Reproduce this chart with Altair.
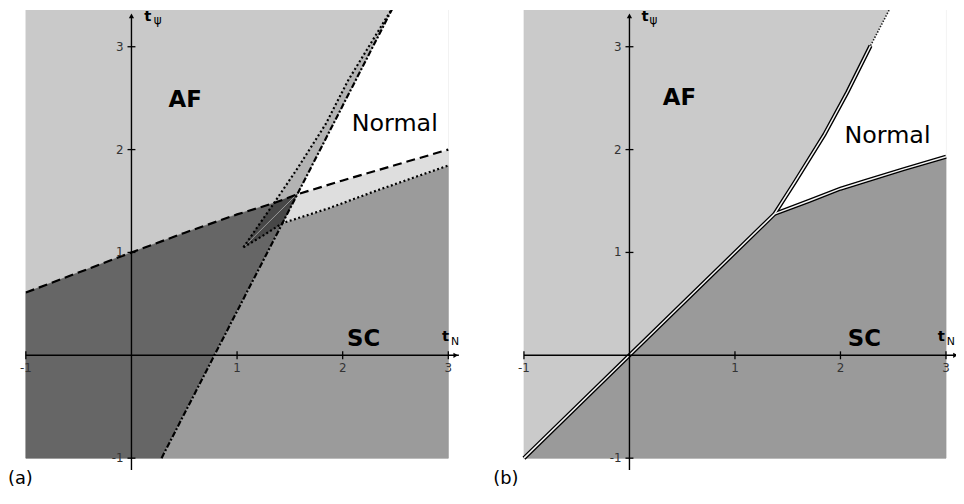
import altair as alt
import pandas as pd

# ---------------- data ----------------
# common frame of the filled region
FRAME_X = [-1.0, 3.0]
FRAME_Y = [-1.0, 3.41]

# panel (a) boundary curves
A_DASH_X = [-1.0, 0.0, 0.5, 1.0, 1.35, 1.57, 2.0, 2.5, 3.0]
A_DASH_Y = [0.61, 1.0, 1.19, 1.37, 1.48, 1.565, 1.70, 1.85, 2.0]
A_DD_X = [0.285, 0.785, 1.43, 1.57, 2.49]
A_DD_Y = [-1.0, 0.0, 1.285, 1.565, 3.41]
A_SC_X = [1.06, 1.24, 1.43, 1.87, 2.29, 2.65, 3.0]
A_SC_Y = [1.05, 1.16, 1.285, 1.43, 1.59, 1.72, 1.845]
A_AF_X = [1.06, 1.35, 1.58, 1.84, 2.05, 2.30, 2.49]
A_AF_Y = [1.05, 1.48, 1.83, 2.25, 2.67, 3.09, 3.41]
A_FAINT_X = [1.06, 1.55]
A_FAINT_Y = [1.05, 1.55]

# panel (b) boundary curves
B_DIAG_X = [-1.0, 0.0, 1.375]
B_DIAG_Y = [-1.0, 0.0, 1.375]
B_AFN_X = [1.375, 1.565, 1.847, 2.066, 2.285]
B_AFN_Y = [1.375, 1.68, 2.145, 2.56, 3.01]
B_DOT_X = [2.285, 2.488]
B_DOT_Y = [3.01, 3.41]
B_SCN_X = [1.375, 1.7, 2.0, 2.22, 2.6, 3.0]
B_SCN_Y = [1.375, 1.50, 1.62, 1.69, 1.81, 1.93]

# axes / ticks / labels
X_TICKS = [-1, 1, 2, 3]
X_TICK_LABELS = ["-1", "1", "2", "3"]
Y_TICKS = [3, 2, 1, -1]
Y_TICK_LABELS = ["3", "2", "1", "-1"]

A_REGION_TEXT = ["AF", "Normal", "SC"]
A_REGION_X = [0.509, 2.493, 2.199]
A_REGION_Y = [2.486, 2.248, 0.155]
B_REGION_TEXT = ["AF", "Normal", "SC"]
B_REGION_X = [0.473, 2.446, 2.227]
B_REGION_Y = [2.502, 2.132, 0.155]

# ---------------- layout ----------------
YD = [-1.29, 3.357]
AXD = [-1.169, 3.413]
BXD = [-1.3036, 3.095]
HEIGHT = 482
WA, WB = 488, 468

FONT = "DejaVu Sans"


def pts(xs, ys, idx):
    return [(xs[k], ys[k]) for k in idx]


def frame_df(points):
    return pd.DataFrame({"x": [p[0] for p in points],
                         "y": [p[1] for p in points],
                         "i": list(range(len(points)))})


def xy(xd):
    return dict(
        x=alt.X("x:Q", scale=alt.Scale(domain=xd, nice=False, zero=False), axis=None),
        y=alt.Y("y:Q", scale=alt.Scale(domain=YD, nice=False, zero=False), axis=None),
    )


def poly(points, color, xd):
    return alt.Chart(frame_df(points)).mark_line(
        fill=color, stroke=color, strokeWidth=0.6, clip=True,
        interpolate="linear-closed").encode(order="i:Q", **xy(xd))


def line(xs, ys, xd, width=2.0, dash=None, color="black"):
    kw = dict(color=color, strokeWidth=width, clip=True)
    if dash:
        kw["strokeDash"] = dash
    return alt.Chart(frame_df(list(zip(xs, ys)))).mark_line(**kw).encode(order="i:Q", **xy(xd))


def texts(xs, ys, labels, xd, **mk):
    df = pd.DataFrame({"x": xs, "y": ys, "t": labels})
    return alt.Chart(df).mark_text(clip=True, font=FONT, **mk).encode(text="t:N", **xy(xd))


def axes(xd, xend, tN_x, tpsi_x, psi_x, tag_x, tag):
    hx = pd.DataFrame({"x": [-1.0], "x2": [xend], "y": [0.0]})
    vy = pd.DataFrame({"x": [0.0], "y": [-1.115], "y2": [3.30]})
    enc = xy(xd)
    layers = [
        alt.Chart(hx).mark_rule(color="black", strokeWidth=1.4, clip=True).encode(
            x=enc["x"], x2="x2:Q", y=enc["y"]),
        alt.Chart(vy).mark_rule(color="black", strokeWidth=1.4, clip=True).encode(
            x=enc["x"], y=enc["y"], y2="y2:Q"),
        alt.Chart(pd.DataFrame({"x": [xend - 0.03], "y": [0.0]})).mark_point(
            shape="triangle-right", filled=True, size=28, color="black", opacity=1, clip=True).encode(**enc),
        alt.Chart(pd.DataFrame({"x": [0.0], "y": [3.30]})).mark_point(
            shape="triangle-up", filled=True, size=28, color="black", opacity=1, clip=True).encode(**enc),
        alt.Chart(pd.DataFrame({"x": X_TICKS, "y": [0] * len(X_TICKS)})).mark_tick(
            orient="vertical", size=8, thickness=1.3, color="black", opacity=1, clip=True).encode(**enc),
        alt.Chart(pd.DataFrame({"x": [0] * len(Y_TICKS), "y": Y_TICKS})).mark_tick(
            orient="horizontal", size=8, thickness=1.3, color="black", opacity=1, clip=True).encode(**enc),
        texts(X_TICKS, [0] * len(X_TICKS), X_TICK_LABELS, xd, dy=13, fontSize=12, color="#333"),
        texts([0] * len(Y_TICKS), Y_TICKS, Y_TICK_LABELS, xd, align="right", dx=-8,
              baseline="middle", fontSize=12, color="#333"),
        texts([tN_x], [0.187], ["t"], xd, fontSize=15, fontWeight="bold", baseline="middle"),
        texts([tN_x + 0.09], [0.133], ["N"], xd, fontSize=11, baseline="middle"),
        texts([tpsi_x], [3.30], ["t"], xd, fontSize=15, fontWeight="bold", baseline="middle"),
        texts([psi_x], [3.262], ["ψ"], xd, fontSize=12, baseline="middle"),
        texts([tag_x], [-1.204], [tag], xd, fontSize=18, baseline="middle"),
    ]
    return layers


# ---------------- panel (a) ----------------
A_BG = [(FRAME_X[0], FRAME_Y[0]), (FRAME_X[1], FRAME_Y[0]), (FRAME_X[1], FRAME_Y[1]), (FRAME_X[0], FRAME_Y[1])]
A_DARK = [(FRAME_X[0], FRAME_Y[0])] + pts(A_DD_X, A_DD_Y, [0, 1, 2, 3]) + pts(A_DASH_X, A_DASH_Y, [4, 3, 2, 1, 0])
A_SCP = pts(A_DD_X, A_DD_Y, [0]) + [(FRAME_X[1], FRAME_Y[0])] + pts(A_SC_X, A_SC_Y, [6, 5, 4, 3, 2]) + pts(A_DD_X, A_DD_Y, [1])
A_BAND = pts(A_SC_X, A_SC_Y, [2, 3, 4, 5, 6]) + pts(A_DASH_X, A_DASH_Y, [8, 7, 6, 5])
A_WHITE = pts(A_DASH_X, A_DASH_Y, [5, 6, 7, 8]) + [(FRAME_X[1], FRAME_Y[1])] + pts(A_DD_X, A_DD_Y, [4])
A_STRIP = pts(A_AF_X, A_AF_Y, [1, 2, 3, 4, 5, 6]) + pts(A_DD_X, A_DD_Y, [3])
A_LENS = pts(A_AF_X, A_AF_Y, [0, 1]) + pts(A_DASH_X, A_DASH_Y, [5]) + pts(A_DD_X, A_DD_Y, [2]) + pts(A_SC_X, A_SC_Y, [1])

panel_a = alt.layer(
    poly(A_BG, "#c9c9c9", AXD),
    poly(A_DARK, "#666666", AXD),
    poly(A_SCP, "#9b9b9b", AXD),
    poly(A_BAND, "#dedede", AXD),
    poly(A_WHITE, "#ffffff", AXD),
    poly(A_STRIP, "#b3b3b3", AXD),
    poly(A_LENS, "#474747", AXD),
    line(A_FAINT_X, A_FAINT_Y, AXD, width=1.0, color="#9a9a9a"),
    line(A_DASH_X, A_DASH_Y, AXD, width=2.2, dash=[9, 5]),
    line(A_DD_X, A_DD_Y, AXD, width=2.2, dash=[6, 2, 2, 2]),
    line(A_SC_X, A_SC_Y, AXD, width=2.2, dash=[2, 2.5]),
    line(A_AF_X, A_AF_Y, AXD, width=2.2, dash=[2, 2.5]),
    *axes(AXD, 3.10, 2.975, 0.155, 0.249, -1.052, "(a)"),
    texts(A_REGION_X[:1] + A_REGION_X[2:], A_REGION_Y[:1] + A_REGION_Y[2:],
          A_REGION_TEXT[:1] + A_REGION_TEXT[2:], AXD, fontSize=23, fontWeight="bold", baseline="middle"),
    texts(A_REGION_X[1:2], A_REGION_Y[1:2], A_REGION_TEXT[1:2], AXD, fontSize=24, baseline="middle"),
).properties(width=WA, height=HEIGHT)

# ---------------- panel (b) ----------------
B_BG = A_BG
B_SCP = pts(B_DIAG_X, B_DIAG_Y, [0]) + [(FRAME_X[1], FRAME_Y[0])] + pts(B_SCN_X, B_SCN_Y, [5, 4, 3, 2, 1, 0]) + pts(B_DIAG_X, B_DIAG_Y, [1])
B_WHITE = pts(B_AFN_X, B_AFN_Y, [0, 1, 2, 3, 4]) + pts(B_DOT_X, B_DOT_Y, [1]) + [(FRAME_X[1], FRAME_Y[1])] + pts(B_SCN_X, B_SCN_Y, [5, 4, 3, 2, 1])

b_layers = [
    poly(B_BG, "#cacaca", BXD),
    poly(B_SCP, "#9a9a9a", BXD),
    poly(B_WHITE, "#ffffff", BXD),
]
for xs, ys in [(B_DIAG_X, B_DIAG_Y), (B_SCN_X, B_SCN_Y), (B_AFN_X, B_AFN_Y)]:
    b_layers.append(line(xs, ys, BXD, width=4.2, color="black"))
for xs, ys in [(B_DIAG_X, B_DIAG_Y), (B_SCN_X, B_SCN_Y), (B_AFN_X, B_AFN_Y)]:
    b_layers.append(line(xs, ys, BXD, width=1.5, color="#f4f4f4"))
b_layers.append(line(B_DOT_X, B_DOT_Y, BXD, width=1.6, dash=[1.5, 1.5], color="#222"))
b_layers += axes(BXD, 3.12, 2.955, 0.148, 0.227, -1.172, "(b)")
b_layers.append(texts(B_REGION_X[:1] + B_REGION_X[2:], B_REGION_Y[:1] + B_REGION_Y[2:],
                      B_REGION_TEXT[:1] + B_REGION_TEXT[2:], BXD, fontSize=23, fontWeight="bold", baseline="middle"))
b_layers.append(texts(B_REGION_X[1:2], B_REGION_Y[1:2], B_REGION_TEXT[1:2], BXD, fontSize=24, baseline="middle"))

panel_b = alt.layer(*b_layers).properties(width=WB, height=HEIGHT)

chart = alt.hconcat(panel_a, panel_b, spacing=0, bounds="flush", padding=0).configure_view(strokeWidth=0)

chart.save("out.html", embed_options={"renderer": "svg", "actions": False})
